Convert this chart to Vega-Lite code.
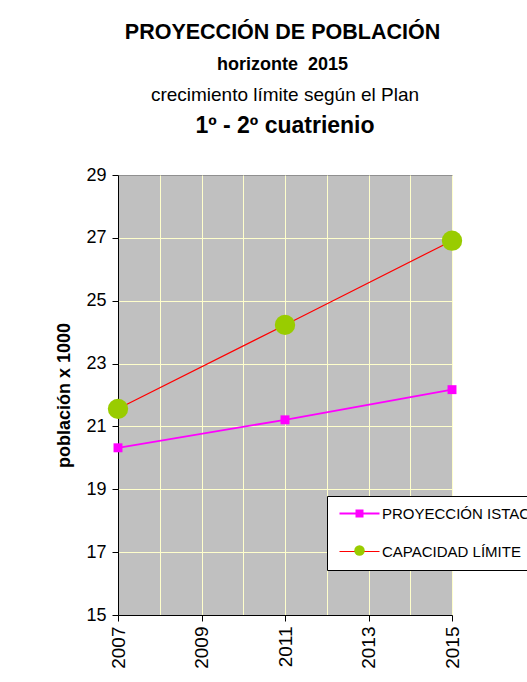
{
  "$schema": "https://vega.github.io/schema/vega-lite/v6.json",
  "background": "white",
  "padding": {"left": 55, "top": 22, "right": 0, "bottom": 0},
  "config": {
    "font": "Liberation Sans",
    "view": {"fill": "#C0C0C0", "stroke": "#909090"}
  },
  "title": {
    "text": "PROYECCIÓN DE POBLACIÓN",
    "subtitle": "horizonte\u00a0\u00a02015",
    "font": "Liberation Sans",
    "fontSize": 21.5,
    "fontWeight": "bold",
    "color": "black",
    "subtitleFont": "Liberation Sans",
    "subtitleFontSize": 18,
    "subtitleFontWeight": "bold",
    "subtitleColor": "black",
    "subtitlePadding": 12,
    "anchor": "middle",
    "dx": -16,
    "offset": 12
  },
  "vconcat": [
    {
      "width": 334,
      "height": 440,
      "title": {
        "text": "crecimiento límite según el Plan",
        "subtitle": "1º - 2º cuatrienio",
        "font": "Liberation Sans",
        "fontSize": 19,
        "fontWeight": "normal",
        "color": "black",
        "subtitleFont": "Liberation Sans",
        "subtitleFontSize": 23,
        "subtitleFontWeight": "bold",
        "subtitleColor": "black",
        "subtitlePadding": 10,
        "anchor": "middle",
        "offset": 28
      },
      "data": {
        "values": [
          {"year": 2007, "value": 20.32, "series": "PROYECCIÓN ISTAC"},
          {"year": 2011, "value": 21.21, "series": "PROYECCIÓN ISTAC"},
          {"year": 2015, "value": 22.17, "series": "PROYECCIÓN ISTAC"},
          {"year": 2007, "value": 21.56, "series": "CAPACIDAD LÍMITE"},
          {"year": 2011, "value": 24.23, "series": "CAPACIDAD LÍMITE"},
          {"year": 2015, "value": 26.91, "series": "CAPACIDAD LÍMITE"}
        ]
      },
      "encoding": {
        "x": {
          "field": "year",
          "type": "quantitative",
          "scale": {"domain": [2007, 2015], "nice": false, "zero": false},
          "axis": {
            "title": null,
            "values": [2007, 2008, 2009, 2010, 2011, 2012, 2013, 2014, 2015],
            "format": "d",
            "labelExpr": "datum.value % 2 == 1 ? datum.label : ''",
            "labelAngle": -90,
            "labelFontSize": 19,
            "labelColor": "black",
            "labelPadding": 5,
            "tickSize": 6,
            "tickColor": {"condition": {"test": "datum.value % 2 == 0", "value": "transparent"}, "value": "black"},
            "domainColor": "black",
            "grid": true,
            "gridColor": "#FFFFCC",
            "gridOpacity": 1,
            "labelFlush": false,
            "labelOverlap": false
          }
        },
        "y": {
          "field": "value",
          "type": "quantitative",
          "scale": {"domain": [15, 29], "nice": false, "zero": false},
          "axis": {
            "title": "población x 1000",
            "titleFontSize": 18,
            "titleFontWeight": "bold",
            "titleColor": "black",
            "titlePadding": 12,
            "values": [15, 17, 19, 21, 23, 25, 27, 29],
            "labelFontSize": 18,
            "labelColor": "black",
            "labelPadding": 6,
            "tickSize": 6,
            "tickColor": "black",
            "domainColor": "black",
            "grid": true,
            "gridColor": {"condition": {"test": "datum.value == 29", "value": "transparent"}, "value": "#FFFFCC"},
            "gridOpacity": 1,
            "labelFlush": false
          }
        }
      },
      "layer": [
        {
          "mark": {"type": "line"},
          "encoding": {
            "stroke": {
              "field": "series",
              "type": "nominal",
              "scale": {"domain": ["PROYECCIÓN ISTAC", "CAPACIDAD LÍMITE"], "range": ["#FF00FF", "#FF0000"]},
              "legend": {
                "title": null,
                "orient": "none",
                "legendX": 209,
                "legendY": 321,
                "zindex": 0,
                "symbolType": "M-4,0H4",
                "symbolSize": 100,
                "symbolOffset": 15,
                "symbolStrokeWidth": 1.5,
                "fillColor": "white",
                "strokeColor": "black",
                "padding": 10,
                "labelFontSize": 15,
                "labelColor": "black",
                "labelOffset": 15,
                "rowPadding": 22,
                "labelLimit": 300
              }
            },
            "strokeWidth": {
              "field": "series",
              "type": "nominal",
              "scale": {"domain": ["PROYECCIÓN ISTAC", "CAPACIDAD LÍMITE"], "range": [1.8, 1.2]},
              "legend": null
            }
          }
        },
        {
          "transform": [{"filter": "datum.series === 'PROYECCIÓN ISTAC'"}],
          "mark": {"type": "point", "shape": "square", "size": 80, "filled": true, "opacity": 1, "strokeWidth": 0},
          "encoding": {
            "fill": {
              "field": "series",
              "type": "nominal",
              "scale": {"domain": ["PROYECCIÓN ISTAC"], "range": ["#FF00FF"]},
              "legend": {
                "title": null,
                "orient": "none",
                "legendX": 209,
                "legendY": 321,
                "zindex": 1,
                "symbolType": "square",
                "symbolSize": 64,
                "symbolOffset": 15,
                "symbolStrokeWidth": 0,
                "padding": 10,
                "labelFontSize": 15,
                "labelColor": "transparent",
                "labelOffset": 15,
                "labelLimit": 300
              }
            }
          }
        },
        {
          "transform": [{"filter": "datum.series === 'CAPACIDAD LÍMITE'"}],
          "mark": {"type": "point", "shape": "circle", "size": 415, "filled": true, "opacity": 1, "strokeWidth": 0},
          "encoding": {
            "color": {
              "field": "series",
              "type": "nominal",
              "scale": {"domain": ["CAPACIDAD LÍMITE"], "range": ["#99CC00"]},
              "legend": {
                "title": null,
                "orient": "none",
                "legendX": 209,
                "legendY": 358,
                "zindex": 1,
                "symbolType": "circle",
                "symbolSize": 110,
                "symbolOffset": 15,
                "symbolStrokeWidth": 0,
                "padding": 10,
                "labelFontSize": 15,
                "labelColor": "transparent",
                "labelOffset": 15,
                "labelLimit": 300
              }
            }
          }
        }
      ]
    }
  ]
}
